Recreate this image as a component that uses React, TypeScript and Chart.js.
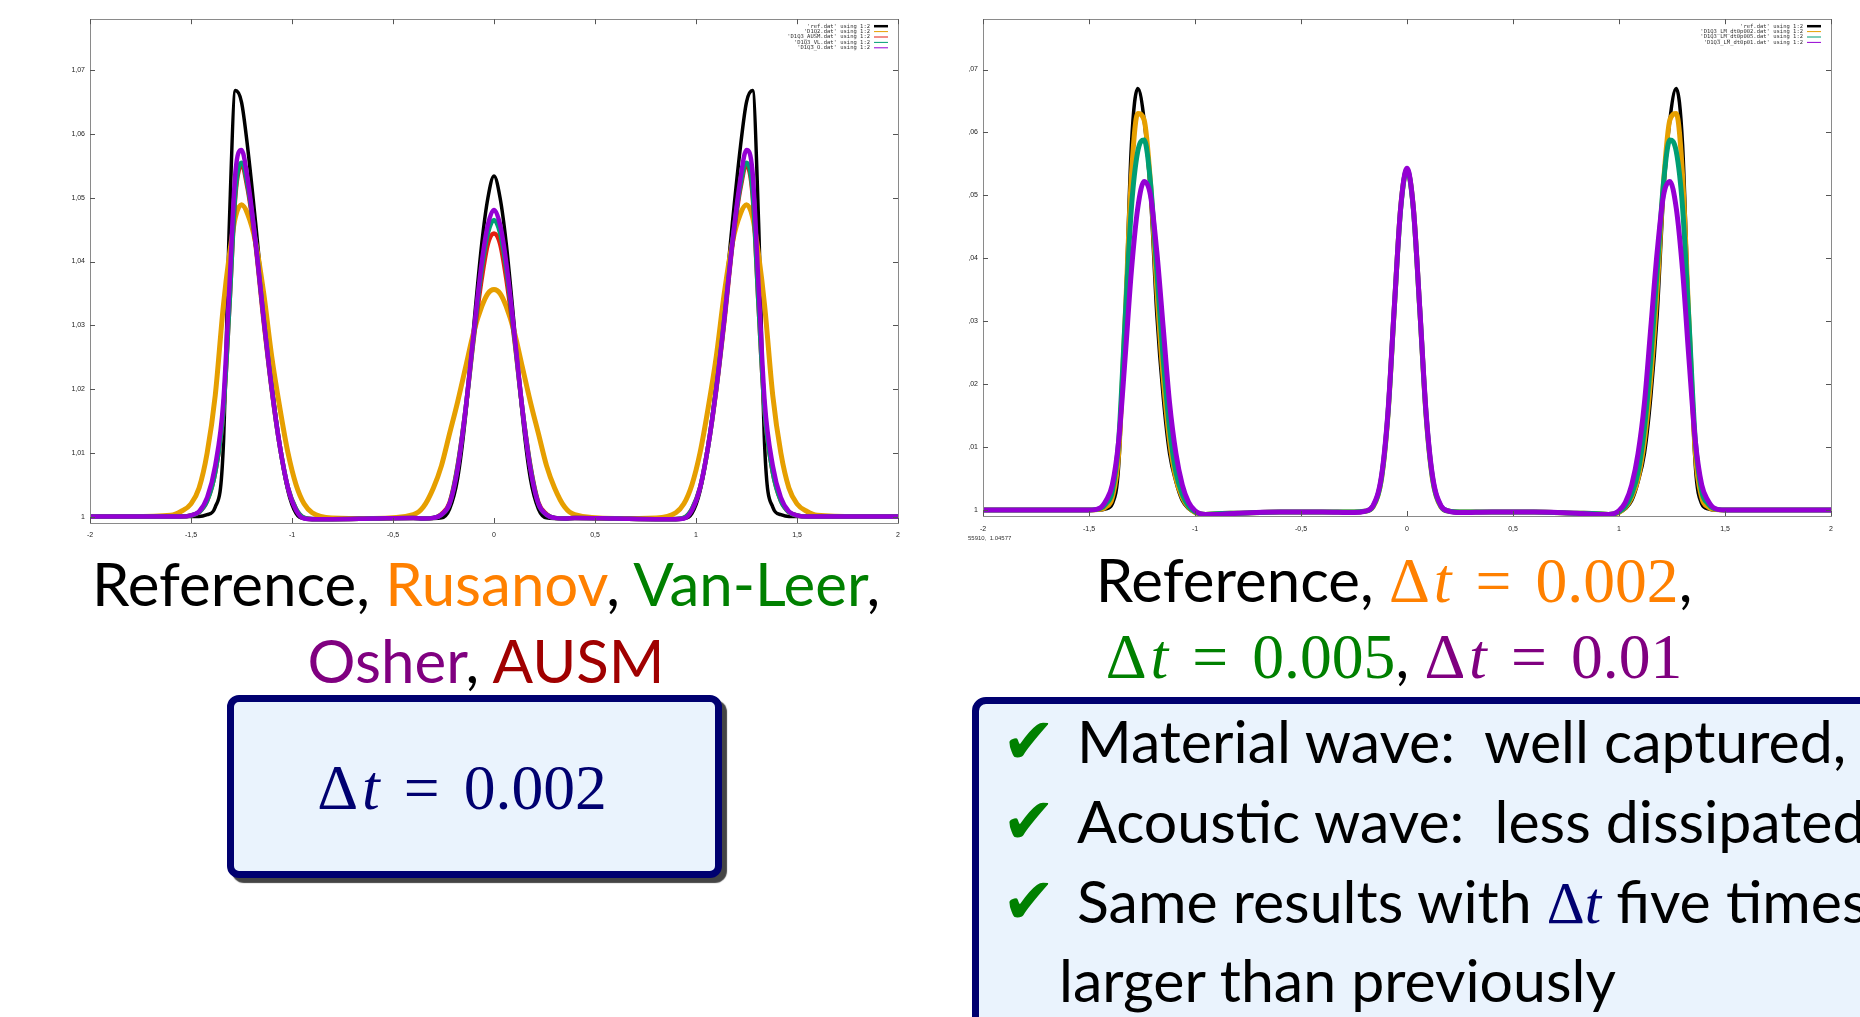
import React, { useEffect, useRef } from 'react';
import { Chart, registerables } from 'chart.js';
Chart.register(...registerables);

// ---------- axis ticks ----------
const X_TICKS = [-2, -1.5, -1, -0.5, 0, 0.5, 1, 1.5, 2];
const Y_TICKS = [1, 1.01, 1.02, 1.03, 1.04, 1.05, 1.06, 1.07];

// ---------- left chart (schemes, dt = 0.002) ----------
const LEFT_X = [
  -2, -1.8, -1.6, -1.55, -1.5, -1.46, -1.42, -1.38, -1.34, -1.31, -1.28, -1.25, -1.22, -1.18, -1.14, -1.1, -1.06, -1.02, -0.98, -0.94, -0.9,
  -0.8, -0.6, -0.4,
  -0.35, -0.3, -0.26, -0.22, -0.18, -0.14, -0.1, -0.06, -0.03, 0, 0.03, 0.06, 0.1, 0.14, 0.18, 0.22, 0.26, 0.3, 0.35,
  0.4, 0.6, 0.8,
  0.9, 0.94, 0.98, 1.02, 1.06, 1.1, 1.14, 1.18, 1.22, 1.25, 1.28, 1.31, 1.34, 1.38, 1.42, 1.46, 1.5, 1.55, 1.6, 1.8, 2,
];
const LEFT_REF = [
  1, 1, 1, 1, 1, 1, 1.0003, 1.0015, 1.011, 1.046, 1.0668, 1.065, 1.058, 1.046, 1.033, 1.021, 1.011, 1.004, 1.0005, 0.9997, 0.9997,
  0.9997, 0.9998, 0.9998,
  0.9997, 0.9997, 0.9998, 1.0012, 1.006, 1.016, 1.03, 1.043, 1.05, 1.0534, 1.05, 1.043, 1.03, 1.016, 1.006, 1.0012, 0.9998, 0.9997, 0.9997,
  0.9998, 0.9998, 0.9997,
  0.9997, 0.9997, 1.0005, 1.004, 1.011, 1.021, 1.033, 1.046, 1.058, 1.065, 1.0668, 1.046, 1.011, 1.0015, 1.0003, 1, 1, 1, 1, 1, 1,
];
const LEFT_RUSANOV = [
  1, 1, 1.0002, 1.0008, 1.002, 1.0045, 1.01, 1.019, 1.033, 1.041, 1.047, 1.0489, 1.0475, 1.043, 1.035, 1.025, 1.017, 1.01, 1.005, 1.002, 1.0006,
  0.9998, 0.9997, 1.0003,
  1.0015, 1.0045, 1.008, 1.013, 1.018, 1.0235, 1.029, 1.033, 1.035, 1.0356, 1.035, 1.033, 1.029, 1.0235, 1.018, 1.013, 1.008, 1.0045, 1.0015,
  1.0003, 0.9997, 0.9998,
  1.0006, 1.002, 1.005, 1.01, 1.017, 1.025, 1.035, 1.043, 1.0475, 1.0489, 1.047, 1.041, 1.033, 1.019, 1.01, 1.0045, 1.002, 1.0008, 1.0002, 1, 1,
];
const LEFT_AUSM = [
  1, 1, 1, 1, 1.0002, 1.0007, 1.0025, 1.007, 1.0165, 1.033, 1.0505, 1.055, 1.0515, 1.0425, 1.0305, 1.0198, 1.011, 1.0045, 1.0012, 0.9998, 0.9996,
  0.9996, 0.9997, 0.9998,
  0.9997, 0.9998, 1.0004, 1.0022, 1.008, 1.017, 1.028, 1.0375, 1.0428, 1.0444, 1.0428, 1.0375, 1.028, 1.017, 1.008, 1.0022, 1.0004, 0.9998, 0.9997,
  0.9998, 0.9997, 0.9996,
  0.9996, 0.9998, 1.0012, 1.0045, 1.011, 1.0198, 1.0305, 1.0425, 1.0515, 1.055, 1.0505, 1.033, 1.0165, 1.007, 1.0025, 1.0007, 1.0002, 1, 1, 1, 1,
];
const LEFT_VANLEER = [
  1, 1, 1, 1, 1.0002, 1.0007, 1.0025, 1.007, 1.0165, 1.033, 1.051, 1.0555, 1.052, 1.043, 1.031, 1.02, 1.011, 1.0045, 1.0012, 0.9998, 0.9996,
  0.9996, 0.9997, 0.9998,
  0.9997, 0.9998, 1.0003, 1.002, 1.0078, 1.017, 1.0285, 1.039, 1.0445, 1.0465, 1.0445, 1.039, 1.0285, 1.017, 1.0078, 1.002, 1.0003, 0.9998, 0.9997,
  0.9998, 0.9997, 0.9996,
  0.9996, 0.9998, 1.0012, 1.0045, 1.011, 1.02, 1.031, 1.043, 1.052, 1.0555, 1.051, 1.033, 1.0165, 1.007, 1.0025, 1.0007, 1.0002, 1, 1, 1, 1,
];
const LEFT_OSHER = [
  1, 1, 1, 1, 1.0002, 1.0008, 1.003, 1.008, 1.018, 1.036, 1.054, 1.0575, 1.053, 1.043, 1.031, 1.02, 1.011, 1.0045, 1.001, 0.9997, 0.9996,
  0.9996, 0.9997, 0.9998,
  0.9997, 0.9998, 1.0003, 1.002, 1.0075, 1.017, 1.029, 1.04, 1.0458, 1.0481, 1.0458, 1.04, 1.029, 1.017, 1.0075, 1.002, 1.0003, 0.9998, 0.9997,
  0.9998, 0.9997, 0.9996,
  0.9996, 0.9997, 1.001, 1.0045, 1.011, 1.02, 1.031, 1.043, 1.053, 1.0575, 1.054, 1.036, 1.018, 1.008, 1.003, 1.0008, 1.0002, 1, 1, 1, 1,
];
const LEFT_LABELS = [
  "'ref.dat' using 1:2",
  "'D1Q2.dat' using 1:2",
  "'D1Q3_AUSM.dat' using 1:2",
  "'D1Q3_VL.dat' using 1:2",
  "'D1Q3_O.dat' using 1:2",
];

// ---------- right chart (three time steps) ----------
const RIGHT_X = [
  -2, -1.8, -1.6, -1.5, -1.45, -1.42, -1.39, -1.36, -1.33, -1.3, -1.27, -1.24, -1.21, -1.18, -1.15, -1.12, -1.09, -1.06, -1.03, -1.0, -0.95, -0.9,
  -0.8, -0.6, -0.4,
  -0.25, -0.2, -0.16, -0.12, -0.09, -0.06, -0.03, 0, 0.03, 0.06, 0.09, 0.12, 0.16, 0.2, 0.25,
  0.4, 0.6, 0.8,
  0.9, 0.95, 1.0, 1.03, 1.06, 1.09, 1.12, 1.15, 1.18, 1.21, 1.24, 1.27, 1.3, 1.33, 1.36, 1.39, 1.42, 1.45, 1.5, 1.6, 1.8, 2,
];
const RIGHT_REF = [
  1, 1, 1, 1, 1, 1.0002, 1.001, 1.007, 1.03, 1.058, 1.067, 1.062, 1.05, 1.031, 1.018, 1.009, 1.0045, 1.0015, 1.0002, 0.9996, 0.9993, 0.9994,
  0.9995, 0.9997, 0.9997,
  0.9997, 0.9998, 1.0005, 1.005, 1.015, 1.032, 1.048, 1.054, 1.048, 1.032, 1.015, 1.005, 1.0005, 0.9998, 0.9997,
  0.9997, 0.9997, 0.9995,
  0.9994, 0.9993, 0.9996, 1.0002, 1.0015, 1.0045, 1.009, 1.018, 1.031, 1.05, 1.062, 1.067, 1.058, 1.03, 1.007, 1.001, 1.0002, 1, 1, 1, 1, 1,
];
const RIGHT_DT002 = [
  1, 1, 1, 1, 1.0001, 1.0005, 1.002, 1.009, 1.03, 1.053, 1.063, 1.062, 1.052, 1.035, 1.021, 1.011, 1.005, 1.002, 1.0004, 0.9996, 0.9993, 0.9994,
  0.9995, 0.9997, 0.9997,
  0.9997, 0.9998, 1.0005, 1.005, 1.015, 1.032, 1.048, 1.054, 1.048, 1.032, 1.015, 1.005, 1.0005, 0.9998, 0.9997,
  0.9997, 0.9997, 0.9995,
  0.9994, 0.9993, 0.9996, 1.0004, 1.002, 1.005, 1.011, 1.021, 1.035, 1.052, 1.062, 1.063, 1.053, 1.03, 1.009, 1.002, 1.0005, 1.0001, 1, 1, 1, 1,
];
const RIGHT_DT005 = [
  1, 1, 1, 1, 1.0002, 1.001, 1.003, 1.011, 1.03, 1.048, 1.057, 1.0588, 1.052, 1.038, 1.024, 1.013, 1.006, 1.0025, 1.0006, 0.9997, 0.9993, 0.9994,
  0.9995, 0.9997, 0.9997,
  0.9997, 0.9998, 1.0006, 1.0052, 1.0152, 1.032, 1.0478, 1.0541, 1.0478, 1.032, 1.0152, 1.0052, 1.0006, 0.9998, 0.9997,
  0.9997, 0.9997, 0.9995,
  0.9994, 0.9993, 0.9997, 1.0006, 1.0025, 1.006, 1.013, 1.024, 1.038, 1.052, 1.0588, 1.057, 1.048, 1.03, 1.011, 1.003, 1.001, 1.0002, 1, 1, 1, 1,
];
const RIGHT_DT01 = [
  1, 1, 1, 1, 1.0003, 1.0015, 1.004, 1.011, 1.024, 1.038, 1.048, 1.0522, 1.05, 1.041, 1.029, 1.017, 1.009, 1.004, 1.0012, 0.9999, 0.9993, 0.9993,
  0.9995, 0.9997, 0.9997,
  0.9996, 0.9998, 1.0007, 1.0055, 1.0155, 1.0322, 1.048, 1.0543, 1.048, 1.0322, 1.0155, 1.0055, 1.0007, 0.9998, 0.9996,
  0.9997, 0.9997, 0.9995,
  0.9993, 0.9993, 0.9999, 1.0012, 1.004, 1.009, 1.017, 1.029, 1.041, 1.05, 1.0522, 1.048, 1.038, 1.024, 1.011, 1.004, 1.0015, 1.0003, 1, 1, 1, 1,
];
const RIGHT_LABELS = [
  "'ref.dat' using 1:2",
  "'D1Q3_LM_dt0p002.dat' using 1:2",
  "'D1Q3_LM_dt0p005.dat' using 1:2",
  "'D1Q3_LM_dt0p01.dat' using 1:2",
];

const C_BLACK = '#000000';
const C_ORANGE = '#E69F00';
const C_RED = '#E51E10';
const C_GREEN = '#009E73';
const C_PURPLE = '#9400D3';

const fmtX = (v: number) => String(v).replace('.', ',');
const fmtY = (v: number) => (v === 1 ? '1' : v.toFixed(2).replace('.', ','));

const gnuplotPlugin = {
  id: 'gnuplotFrame',
  afterDraw(chart: any) {
    const { ctx, chartArea: a, scales } = chart;
    ctx.save();
    ctx.strokeStyle = '#8a8a8a';
    ctx.lineWidth = 1;
    ctx.strokeRect(Math.round(a.left) + 0.5, Math.round(a.top) + 0.5, Math.round(a.right - a.left), Math.round(a.bottom - a.top));
    ctx.strokeStyle = '#555';
    ctx.beginPath();
    for (const v of X_TICKS) {
      const px = Math.round(scales.x.getPixelForValue(v)) + 0.5;
      ctx.moveTo(px, a.bottom); ctx.lineTo(px, a.bottom - 5);
      ctx.moveTo(px, a.top); ctx.lineTo(px, a.top + 5);
    }
    for (const v of Y_TICKS) {
      const py = Math.round(scales.y.getPixelForValue(v)) + 0.5;
      ctx.moveTo(a.left, py); ctx.lineTo(a.left + 5, py);
      ctx.moveTo(a.right, py); ctx.lineTo(a.right - 5, py);
    }
    ctx.stroke();
    // gnuplot-style key (top right)
    const labels: string[] = chart.options.plugins.gnuKey.labels;
    ctx.font = '5.5px "DejaVu Sans Mono", monospace';
    ctx.textAlign = 'right';
    ctx.textBaseline = 'middle';
    labels.forEach((lab, i) => {
      const ds = chart.data.datasets[i];
      const y = a.top + 7 + i * 5.4;
      ctx.fillStyle = '#333';
      ctx.fillText(lab, a.right - 28, y);
      ctx.strokeStyle = ds.borderColor;
      ctx.lineWidth = i === 0 ? 2.5 : 1;
      ctx.beginPath();
      ctx.moveTo(a.right - 24, y); ctx.lineTo(a.right - 10, y);
      ctx.stroke();
    });
    ctx.restore();
  },
};

function makeDataset(xs: number[], ys: number[], color: string, width: number, order: number) {
  return {
    data: xs.map((x, i) => ({ x, y: ys[i] })),
    borderColor: color,
    backgroundColor: color,
    borderWidth: width,
    pointRadius: 0,
    cubicInterpolationMode: 'monotone' as const,
    fill: false,
    order,
  };
}

function makeConfig(datasets: any[], labels: string[], ymin: number, ymax: number, yWidth: number, xHeight: number, padTop: number, padRight: number, xPad: number) {
  return {
    type: 'line' as const,
    data: { datasets },
    plugins: [gnuplotPlugin],
    options: {
      animation: false,
      responsive: false,
      devicePixelRatio: 1,
      layout: { padding: { top: padTop, right: padRight, left: 0, bottom: 0 } },
      plugins: { legend: { display: false }, tooltip: { enabled: false }, gnuKey: { labels } },
      scales: {
        x: {
          type: 'linear',
          min: -2,
          max: 2,
          afterBuildTicks: (axis: any) => { axis.ticks = X_TICKS.map((value) => ({ value })); },
          afterFit: (s: any) => { s.height = xHeight; },
          grid: { display: false, drawTicks: false },
          border: { display: false },
          ticks: {
            callback: (v: any) => fmtX(Number(v)),
            font: { size: 7, family: '"Liberation Sans", sans-serif' },
            color: '#222',
            padding: xPad,
            maxRotation: 0,
            autoSkip: false,
          },
        },
        y: {
          type: 'linear',
          min: ymin,
          max: ymax,
          afterBuildTicks: (axis: any) => { axis.ticks = Y_TICKS.map((value) => ({ value })); },
          afterFit: (s: any) => { s.width = yWidth; },
          grid: { display: false, drawTicks: false },
          border: { display: false },
          ticks: {
            callback: (v: any) => fmtY(Number(v)),
            font: { size: 7, family: '"Liberation Sans", sans-serif' },
            color: '#222',
            padding: 5,
            autoSkip: false,
          },
        },
      },
    },
  };
}

function ChartCanvas({ left, top, width, height, config }: any) {
  const ref = useRef<HTMLCanvasElement | null>(null);
  useEffect(() => {
    if (!ref.current) return;
    const chart = new Chart(ref.current, config);
    return () => chart.destroy();
  }, []);
  return (
    <canvas
      ref={ref}
      width={width}
      height={height}
      style={{ position: 'absolute', left, top, width, height }}
    />
  );
}

const SANS = 'Lato, "Open Sans", sans-serif';
const SERIF = '"Liberation Serif", "DejaVu Serif", serif';

function DtExpr({ value, color }: { value: string; color: string }) {
  return (
    <span style={{ fontFamily: SERIF, color, fontSize: '1.06em' }}>
      <span style={{ marginRight: '0.06em' }}>Δ</span>
      <i>t</i>
      <span style={{ margin: '0 0.38em' }}>=</span>
      {value}
    </span>
  );
}

function Line({ cx, cy, children, size = 60 }: any) {
  return (
    <div
      style={{
        position: 'absolute',
        left: cx,
        top: cy,
        transform: 'translate(-50%, -50%)',
        whiteSpace: 'nowrap',
        fontFamily: SANS,
        fontSize: size,
        lineHeight: 1,
        color: '#000',
      }}
    >
      {children}
    </div>
  );
}

function BoxLine({ x, cy, check, children }: any) {
  return (
    <>
      {check && (
        <div
          style={{
            position: 'absolute',
            left: 1002,
            top: cy - 40,
            height: 80,
            lineHeight: '80px',
            color: '#008000',
            fontFamily: '"DejaVu Sans", sans-serif',
            fontSize: 64,
          }}
        >
          ✔
        </div>
      )}
      <div
        style={{
          position: 'absolute',
          left: x,
          top: cy - 35,
          height: 70,
          lineHeight: '70px',
          whiteSpace: 'nowrap',
          fontFamily: SANS,
          fontSize: 59,
          color: '#000',
        }}
      >
        {children}
      </div>
    </>
  );
}

export default function App() {
  const leftConfig = makeConfig(
    [
      makeDataset(LEFT_X, LEFT_REF, C_BLACK, 3.5, 5),
      makeDataset(LEFT_X, LEFT_RUSANOV, C_ORANGE, 5, 4),
      makeDataset(LEFT_X, LEFT_AUSM, C_RED, 4.5, 3),
      makeDataset(LEFT_X, LEFT_VANLEER, C_GREEN, 4.5, 2),
      makeDataset(LEFT_X, LEFT_OSHER, C_PURPLE, 4.5, 1),
    ],
    LEFT_LABELS,
    0.999,
    1.078,
    50,
    27,
    7,
    12,
    8,
  );
  const rightConfig = makeConfig(
    [
      makeDataset(RIGHT_X, RIGHT_REF, C_BLACK, 3.5, 4),
      makeDataset(RIGHT_X, RIGHT_DT002, C_ORANGE, 5, 3),
      makeDataset(RIGHT_X, RIGHT_DT005, C_GREEN, 5, 2),
      makeDataset(RIGHT_X, RIGHT_DT01, C_PURPLE, 5, 1),
    ],
    RIGHT_LABELS,
    0.99905,
    1.078,
    14,
    24,
    7,
    29,
    9,
  );

  return (
    <div style={{ position: 'fixed', left: 0, top: 0, width: 1860, height: 1017, overflow: 'hidden', background: '#fff' }}>
      <ChartCanvas left={40} top={10} width={870} height={540} config={leftConfig} />
      <ChartCanvas left={969} top={10} width={891} height={530} config={rightConfig} />

      <div style={{ position: 'absolute', left: 968, top: 535, fontSize: 6, fontFamily: '"Liberation Sans", sans-serif', color: '#333', whiteSpace: 'nowrap' }}>
        55910,&nbsp;&nbsp;1.04577
      </div>

      {/* captions under the left chart */}
      <Line cx={486} cy={583}>
        Reference, <span style={{ color: '#FF8000' }}>Rusanov</span>, <span style={{ color: '#008000' }}>Van-Leer</span>,
      </Line>
      <Line cx={486} cy={660}>
        <span style={{ color: '#800080' }}>Osher</span>, <span style={{ color: '#A00000' }}>AUSM</span>
      </Line>

      {/* captions under the right chart */}
      <Line cx={1394} cy={581}>
        Reference, <DtExpr value="0.002" color="#FF8000" />,
      </Line>
      <Line cx={1394} cy={657}>
        <DtExpr value="0.005" color="#008000" />, <DtExpr value="0.01" color="#800080" />
      </Line>

      {/* left box */}
      <div
        style={{
          position: 'absolute',
          left: 227,
          top: 695,
          width: 495,
          height: 183,
          boxSizing: 'border-box',
          border: '7px solid #000070',
          borderRadius: 12,
          background: '#EAF3FD',
          boxShadow: '5px 5px 1px #444',
        }}
      />
      <div
        style={{
          position: 'absolute',
          left: 462,
          top: 788,
          transform: 'translate(-50%, -50%)',
          fontSize: 60,
          whiteSpace: 'nowrap',
          lineHeight: 1,
        }}
      >
        <DtExpr value="0.002" color="#000070" />
      </div>

      {/* right box */}
      <div
        style={{
          position: 'absolute',
          left: 972,
          top: 697,
          width: 1000,
          height: 420,
          boxSizing: 'border-box',
          border: '7px solid #000070',
          borderRadius: 14,
          background: '#EAF3FD',
          boxShadow: '5px 5px 1px #444',
        }}
      />
      <BoxLine x={1077} cy={741} check>Material wave:&nbsp; well captured, efficient</BoxLine>
      <BoxLine x={1077} cy={821} check>Acoustic wave:&nbsp; less dissipated</BoxLine>
      <BoxLine x={1077} cy={901} check>
        Same results with <span style={{ fontFamily: SERIF, color: '#000070' }}>Δ<i>t</i></span> five times
      </BoxLine>
      <BoxLine x={1059} cy={980}>larger than previously</BoxLine>
    </div>
  );
}
